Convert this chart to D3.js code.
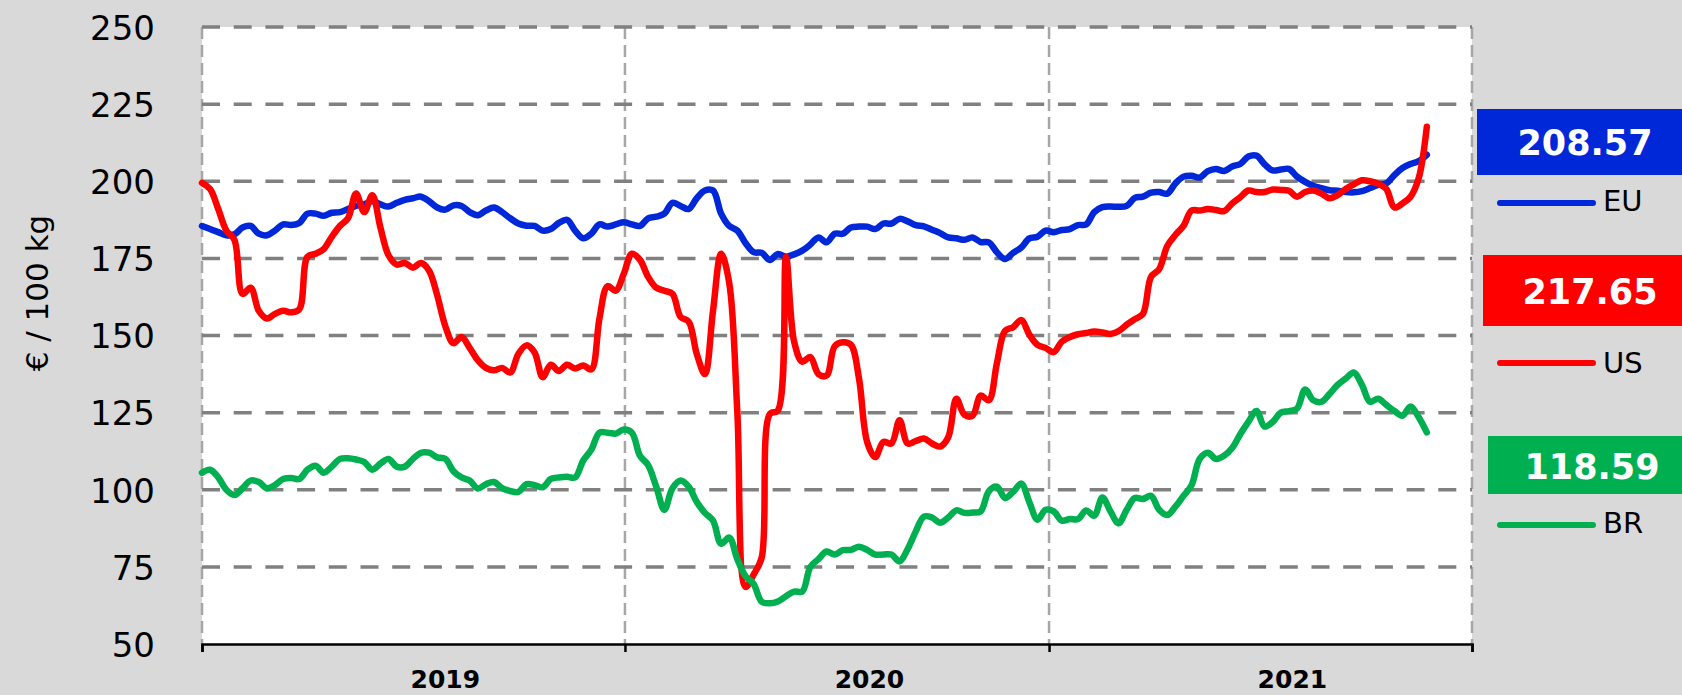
<!DOCTYPE html>
<html>
<head>
<meta charset="utf-8">
<script src="https://cdn.jsdelivr.net/npm/d3@7"></script>
<style>
  html, body { margin: 0; padding: 0; background: #d9d9d9; overflow: hidden; }
  svg { display: block; font-family: "DejaVu Sans", Verdana, sans-serif; }
</style>
</head>
<body>
<div id="chart"></div>
<script>
"use strict";

// chart data, weekly prices in EUR / 100 kg, first week of 2019 onwards
var seriesNames = ['EU', 'US', 'BR'];
var seriesColors = ['#0028d8', '#ff0000', '#00b050'];
var lastLabels = ['208.57', '217.65', '118.59'];
var yTicks = [50, 75, 100, 125, 150, 175, 200, 225, 250];
var yearLabels = [2019, 2020, 2021];

var euValues = [
  185.5, 184.5, 183.5, 182.5, 182.8, 185, 185.5, 183, 182.5, 184, 186, 185.8, 186.5, 189.5, 189.5, 188.8, 189.8, 190, 191, 192, 192.5, 193.5, 192.5, 191.8, 193, 194, 194.5,
  195, 193.5, 191.5, 190.8, 192.2, 192, 190, 189, 190.5, 191.5, 190, 188, 186.3, 185.6, 185.5, 184, 184.5, 186.5, 187.5, 184, 181.5, 183, 186, 185.3, 186, 186.7,
  186, 185.5, 188, 188.5, 189.5, 193, 192, 191, 194.5, 197, 197, 189.5, 185.5, 184, 180, 177, 176.8, 174.5, 176.4, 175.5, 176.3, 177.5, 179.5, 181.8, 180.2, 183,
  183, 185, 185.3, 185.3, 184.5, 186.3, 186.3, 187.8, 187, 185.8, 185.4, 184.3, 183.2, 181.8, 181.5, 181, 181.8, 180.3, 180.2, 177, 174.8, 176.8, 178.5, 181.5, 182, 184,
  183.5, 184.2, 184.5, 185.8, 186, 190, 191.6, 191.8, 191.7, 192, 194.6, 195, 196.3, 196.5, 196, 199.3, 201.5, 201.8, 201.2, 203.3, 204, 203.3, 204.8, 205.6, 208, 208.3,
  205.5, 203.5, 203.8, 204, 201.5, 199.8, 198.5, 197.8, 197.1, 196.9, 196.5, 196.4, 196.8, 197.8, 198.8, 199.3, 202, 204.3, 205.6, 206.5, 208.57
];

var usValues = [
  199.5, 197.5, 191, 184, 181, 163.5, 165.5, 158, 155.5, 157, 158, 157.5, 158.5, 175.5, 176.5, 178, 182, 185.5, 188, 196, 190, 195.5, 185, 176, 173, 173.5, 172,
  173.5, 171, 163, 153, 147.5, 149.5, 146, 142, 139.5, 138.7, 139.5, 138, 144, 146.8, 144.5, 136.5, 140.5, 138.5, 140.5, 139.3, 140.3, 139, 155.5, 166, 164.5, 170,
  176.5, 174.5, 169, 165.5, 164.5, 163.5, 156, 154.5, 144, 137.5, 158, 176.5, 167, 125, 68.5, 72.5, 78, 124.5, 125.7, 175.5, 148, 141.5, 143, 137.5, 137, 146.5,
  147.8, 147, 136, 115.5, 110.6, 115.5, 115, 122.5, 115, 115.8, 116.6, 115, 114, 117, 129.5, 124.3, 124, 130.5, 129, 141, 151.5, 152.7, 155, 150.3, 147, 146,
  144.6, 148, 149.5, 150.4, 150.8, 151.3, 151, 150.5, 151.4, 153.5, 155.3, 157, 169, 171.5, 179, 182.6, 185.5, 190.5, 190.5, 191, 190.7, 190.3, 192.8, 194.8, 197, 196.5,
  196.5, 197.3, 197.2, 196.9, 195, 196.5, 197, 196, 194.5, 195.5, 197.5, 199, 200.3, 200, 199.2, 197.5, 191.5, 192.8, 195, 201, 217.65
];

var brValues = [
  105.5, 106.5, 104, 100, 98.3, 100.5, 103, 102.5, 100.5, 101.5, 103.5, 103.8, 103.5, 106.5, 107.8, 105.5, 107.5, 110, 110.2, 109.8, 109, 106.5, 108.5, 110, 107.5, 107.5, 110,
  112, 112, 110.5, 110, 106, 104, 103, 100.4, 101.8, 102.5, 100.5, 99.6, 99.3, 101.8, 101.5, 100.8, 103.5, 104, 104.2, 104, 109.5, 113, 118.5, 118.5, 118.2, 119.5,
  118.5, 111, 108, 101, 93.5, 100.5, 103, 101, 96, 92.5, 90, 82.5, 84.5, 77.5, 72, 69.5, 63.7, 63.2, 63.8, 65.5, 67, 67, 75, 77.5, 80, 79,
  80.4, 80.5, 81.5, 80.5, 79, 79, 79, 76.8, 80.8, 86.5, 91.3, 91, 89.3, 91, 93.3, 92.5, 92.6, 93, 99.5, 101, 97.3, 99.3, 102, 96, 90.3, 93.5,
  93, 90, 90.5, 90.5, 93.3, 91.6, 97.5, 93, 89.1, 93.5, 97.3, 97, 98, 93.5, 91.8, 94.5, 98, 101.5, 110, 112, 110, 111, 113.5, 118, 122, 125.5,
  120.5, 122, 125, 125.5, 126.3, 132.5, 129, 128.5, 131, 134, 136, 138, 134, 128.5, 129.5, 127.5, 125.5, 124, 127, 123.5, 118.59
];

var startDate = new Date(2019, 0, 1);
var weeks = d3.range(euValues.length).map(function(i) { return d3.timeDay.offset(startDate, 7 * i); });
var allValues = [euValues, usValues, brValues];

var W = 1682, H = 695;
var plot = { left: 202, right: 1472, top: 27, bottom: 644 };

var svg = d3.select('#chart').append('svg').attr('width', W).attr('height', H);
svg.append('rect').attr('width', W).attr('height', H).attr('fill', '#d9d9d9');

var x = d3.scaleTime()
  .domain([new Date(2019, 0, 1), new Date(2022, 0, 1)])
  .range([plot.left, plot.right]);
var y = d3.scaleLinear().domain([50, 250]).range([plot.bottom, plot.top]);

svg.append('rect')
  .attr('x', plot.left).attr('y', plot.top)
  .attr('width', plot.right - plot.left).attr('height', plot.bottom - plot.top)
  .attr('fill', '#ffffff');

// vertical year gridlines (including plot borders)
var yearStarts = [2019, 2020, 2021, 2022].map(function(yr) { return new Date(yr, 0, 1); });
svg.append('g').selectAll('line').data(yearStarts).enter().append('line')
  .attr('x1', function(d) { return x(d); }).attr('x2', function(d) { return x(d); })
  .attr('y1', plot.top).attr('y2', plot.bottom)
  .attr('stroke', '#a6a6a6').attr('stroke-width', 2.5).attr('stroke-dasharray', '12,6');

// horizontal gridlines
svg.append('g').selectAll('line').data(yTicks.filter(function(t) { return t > 50; })).enter().append('line')
  .attr('x1', plot.left).attr('x2', plot.right)
  .attr('y1', function(d) { return y(d); }).attr('y2', function(d) { return y(d); })
  .attr('stroke', '#808080').attr('stroke-width', 3.5).attr('stroke-dasharray', '18,13.7');

// y axis labels
var yAxis = svg.append('g')
  .attr('transform', 'translate(' + plot.left + ',0)')
  .call(d3.axisLeft(y).tickValues(yTicks).tickSize(0).tickPadding(47));
yAxis.select('.domain').remove();
yAxis.selectAll('text')
  .attr('font-family', '"DejaVu Sans", Verdana, sans-serif')
  .attr('font-size', 34).attr('fill', '#000').attr('dy', '0.36em');

// x axis
var xAxis = svg.append('g')
  .attr('transform', 'translate(0,' + plot.bottom + ')')
  .call(d3.axisBottom(x).tickValues(yearStarts).tickSize(8).tickFormat(''));
xAxis.select('.domain').attr('stroke', '#000').attr('stroke-width', 2.5);
xAxis.selectAll('.tick line').attr('stroke', '#000').attr('stroke-width', 2.5);

svg.append('g').selectAll('text').data(yearLabels).enter().append('text')
  .attr('x', function(d) { return x(new Date(d, 6, 30)); })
  .attr('y', 688)
  .attr('text-anchor', 'middle')
  .attr('font-weight', 'bold').attr('font-size', 25)
  .text(function(d) { return d; });

// y axis title
svg.append('text')
  .attr('transform', 'translate(48,293) rotate(-90)')
  .attr('text-anchor', 'middle')
  .attr('font-size', 31)
  .text('€ / 100 kg');

// series lines
var line = d3.line()
  .x(function(d, i) { return x(weeks[i]); })
  .y(function(d) { return y(d); })
  .curve(d3.curveCatmullRom.alpha(0.5));

svg.append('g').selectAll('path').data(allValues).enter().append('path')
  .attr('d', function(d) { return line(d); })
  .attr('fill', 'none')
  .attr('stroke', function(d, i) { return seriesColors[i]; })
  .attr('stroke-width', 6.5)
  .attr('stroke-linejoin', 'round').attr('stroke-linecap', 'round');

// legend with latest values
var legendBoxes = [
  { x: 1477, y: 109, h: 66, tx: 1585, ty: 155, ly: 203, lt: 211 },
  { x: 1483, y: 255, h: 71, tx: 1590, ty: 304, ly: 363, lt: 373 },
  { x: 1488, y: 436, h: 58, tx: 1592, ty: 479, ly: 525, lt: 533 }
];

var legend = svg.append('g').selectAll('g').data(seriesNames).enter().append('g');
legend.append('rect')
  .attr('x', function(d, i) { return legendBoxes[i].x; })
  .attr('y', function(d, i) { return legendBoxes[i].y; })
  .attr('width', function(d, i) { return W - legendBoxes[i].x; })
  .attr('height', function(d, i) { return legendBoxes[i].h; })
  .attr('fill', function(d, i) { return seriesColors[i]; });
legend.append('text')
  .attr('x', function(d, i) { return legendBoxes[i].tx; })
  .attr('y', function(d, i) { return legendBoxes[i].ty; })
  .attr('text-anchor', 'middle').attr('fill', '#fff')
  .attr('font-weight', 'bold').attr('font-size', 35)
  .text(function(d, i) { return lastLabels[i]; });
legend.append('line')
  .attr('x1', 1500).attr('x2', 1593)
  .attr('y1', function(d, i) { return legendBoxes[i].ly; })
  .attr('y2', function(d, i) { return legendBoxes[i].ly; })
  .attr('stroke', function(d, i) { return seriesColors[i]; })
  .attr('stroke-width', 6).attr('stroke-linecap', 'round');
legend.append('text')
  .attr('x', 1603)
  .attr('y', function(d, i) { return legendBoxes[i].lt; })
  .attr('font-size', 29).attr('fill', '#000')
  .text(function(d) { return d; });
</script>
</body>
</html>
